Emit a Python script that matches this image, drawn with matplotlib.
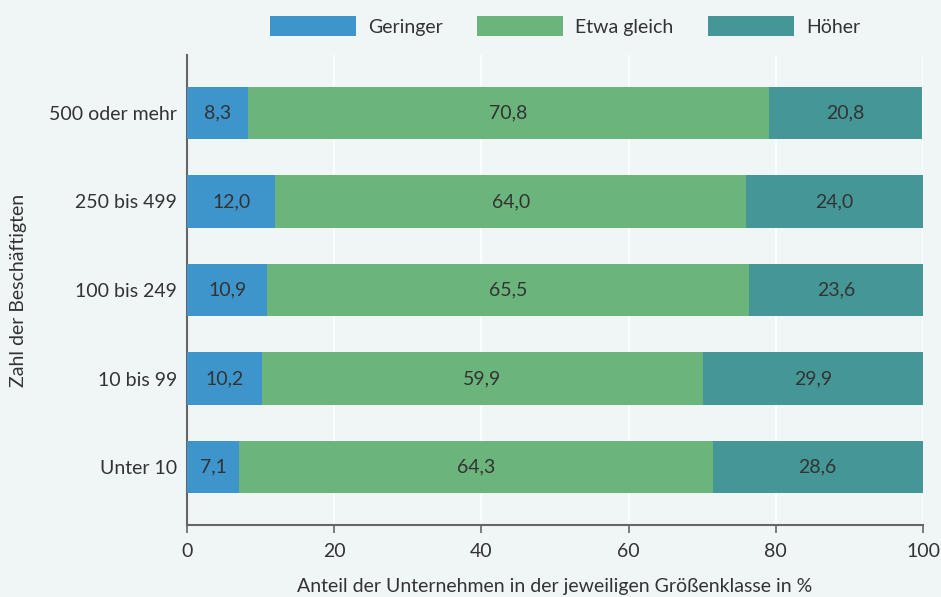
import matplotlib
matplotlib.use("Agg")
import matplotlib.pyplot as plt
from matplotlib.patches import Patch

categories = ["Unter 10", "10 bis 99", "100 bis 249", "250 bis 499", "500 oder mehr"]
geringer = [7.1, 10.2, 10.9, 12.0, 8.3]
etwa_gleich = [64.3, 59.9, 65.5, 64.0, 70.8]
hoeher = [28.6, 29.9, 23.6, 24.0, 20.8]
series_names = ["Geringer", "Etwa gleich", "Höher"]
colors = ["#3e95cb", "#6bb57c", "#459696"]
xticks = [0, 20, 40, 60, 80, 100]

bg = "#f0f5f5"
txt = "#333333"
fs = 14
plt.rcParams['font.family'] = ['Lato', 'DejaVu Sans']

fig = plt.figure(figsize=(9.41, 5.97), dpi=100, facecolor=bg)
ax = fig.add_axes([187/941, 1-525/597, (923-187)/941, (525-55)/597])
ax.set_facecolor(bg)

ypos = list(range(len(categories)))
left = [0]*len(categories)
for name, vals, c in zip(series_names, [geringer, etwa_gleich, hoeher], colors):
    ax.barh(ypos, vals, left=left, height=0.59, color=c, label=name, zorder=3)
    for y, l, v in zip(ypos, left, vals):
        ax.text(l + v/2, y, f"{v:.1f}".replace(".", ","), ha="center", va="center",
                fontsize=fs, color=txt, zorder=4)
    left = [a + b for a, b in zip(left, vals)]

ax.set_xlim(0, 100)
ax.set_ylim(-0.655, 4.655)
ax.set_yticks(ypos)
ax.set_yticklabels(categories, fontsize=fs, color=txt)
ax.set_xticks(xticks)
ax.set_xticklabels([str(t) for t in xticks], fontsize=fs, color=txt)
ax.grid(axis="x", color="white", linewidth=1.2, zorder=0)
ax.set_axisbelow(True)
for s in ["top", "right"]:
    ax.spines[s].set_visible(False)
for s in ["left", "bottom"]:
    ax.spines[s].set_color("#666666")
    ax.spines[s].set_linewidth(1.5)
ax.tick_params(axis="y", length=0, pad=7)
ax.tick_params(axis="x", length=6, width=1.2, color="#666666", pad=7)

ax.set_xlabel("Anteil der Unternehmen in der jeweiligen Größenklasse in %", fontsize=fs, color=txt, labelpad=13)
ax.set_ylabel("Zahl der Beschäftigten", fontsize=fs, color=txt, labelpad=16)

handles = [Patch(facecolor=c, label=n) for n, c in zip(series_names, colors)]
fig.legend(handles=handles, loc="center", bbox_to_anchor=(565/941, 1-26/597), ncol=3,
           frameon=False, fontsize=fs, handlelength=4.4, handleheight=1.2,
           columnspacing=1.8, handletextpad=0.62, labelcolor=txt,
           borderpad=0, borderaxespad=0)

fig.savefig("out.png", dpi=100, facecolor=bg)
